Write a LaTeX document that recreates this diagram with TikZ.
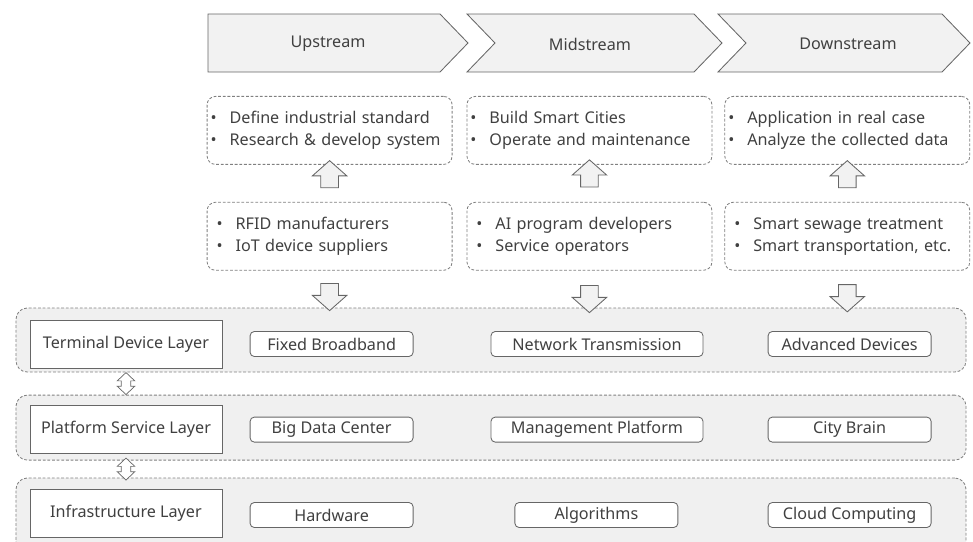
\documentclass[tikz,border=0pt]{standalone}
\usepackage{fontspec}
\setmainfont{Noto Sans}
\usetikzlibrary{positioning}
\usetikzlibrary{calc}
\usetikzlibrary{shapes.arrows}

\definecolor{txtgray}{HTML}{404040}
\definecolor{linegray}{HTML}{666666}
\definecolor{dashgray}{HTML}{808080}
\definecolor{fillgray}{HTML}{F2F2F2}
\definecolor{bandgray}{HTML}{F0F0F0}

\newcommand{\blt}{\makebox[0.475cm][l]{\textbullet}}

\begin{document}
\begin{tikzpicture}[
  font=\fontsize{11.5}{15.6}\selectfont, text=txtgray,
  chev/.style={draw=linegray, fill=fillgray, line width=.6pt},
  note/.style={draw=dashgray, dash pattern=on 2pt off 1.3pt, rounded corners=6pt, line width=.6pt,
    minimum width=6.125cm, minimum height=1.7cm, inner xsep=.08cm, text width=5.95cm, align=left},
  band/.style={draw=dashgray, fill=bandgray, dash pattern=on 2pt off 1.3pt, rounded corners=8pt,
    line width=.6pt, minimum width=23.75cm},
  layer/.style={draw=linegray, fill=white, line width=.6pt, minimum width=4.8cm, minimum height=1.2cm},
  item/.style={draw=linegray, fill=white, line width=.6pt, rounded corners=3pt,
    minimum width=4.075cm, minimum height=.625cm, inner sep=0pt},
  blockarr/.style={single arrow, draw=linegray, fill=fillgray, line width=.6pt,
    inner xsep=.2cm, inner ysep=.21cm, minimum height=.68cm, single arrow head extend=.21cm,
    single arrow tip angle=97},
  dblarr/.style={double arrow, draw=linegray, fill=white, line width=.5pt, rotate=90,
    inner xsep=.075cm, inner ysep=.11cm, minimum height=.55cm, minimum width=.425cm,
    double arrow head extend=.1cm, double arrow tip angle=93}
]
\useasboundingbox (0,0) rectangle (24.325,-13.525);

% value chain
\draw[chev] (5.2,-0.35) -- (11.0,-0.35) -- (11.7,-1.075) -- (11.0,-1.8) -- (5.2,-1.8) -- cycle;
\draw[chev] (11.675,-0.35) -- (17.35,-0.35) -- (18.05,-1.075) -- (17.35,-1.8) -- (11.675,-1.8)
  -- (12.375,-1.075) -- cycle;
\draw[chev] (17.95,-0.35) -- (23.55,-0.35) -- (24.25,-1.075) -- (23.55,-1.8) -- (17.95,-1.8)
  -- (18.65,-1.075) -- cycle;
\node(up) at (8.2,-1.1) {Upstream};
\node(mid) at (14.75,-1.1) {Midstream};
\node(down) at (21.2,-1.1) {Downstream};

\node(t1)[note] at (8.24,-3.26) {\blt Define industrial standard\\ \blt Research \& develop system};
\node(t2)[note, right=0.35cm of t1] {\blt Build Smart Cities\\ \blt Operate and maintenance};
\node(t3)[note, right=0.3cm of t2] {\blt Application in real case\\ \blt Analyze the collected data};

\node(b1)[note, below=0.925cm of t1, text width=5.65cm] {\blt RFID manufacturers\\ \blt IoT device suppliers};
\node(b2)[note, below=0.925cm of t2, text width=5.65cm] {\blt AI program developers\\ \blt Service operators};
\node(b3)[note, below=0.925cm of t3, text width=5.65cm] {\blt Smart sewage treatment\\ \blt Smart transportation, etc.};

% layers
\node(band1)[band, minimum height=1.6cm] at (12.275,-8.5) {};
\node(band2)[band, minimum height=1.625cm] at (12.275,-10.69) {};
\node(band3)[band, minimum height=2cm] at (12.275,-12.95) {};

\node(lay1)[layer] at (3.15,-8.6) {Terminal Device Layer};
\node(lay2)[layer] at (3.15,-10.725) {Platform Service Layer};
\node(lay3)[layer] at (3.15,-12.825) {Infrastructure Layer};

\node(i11)[item] at (8.29,-8.6) {Fixed Broadband};
\node(i12)[item, minimum width=5.3cm] at (14.925,-8.6) {Network Transmission};
\node(i13)[item] at (21.24,-8.6) {Advanced Devices};

\node(i21)[item] at (8.29,-10.74) {Big Data Center};
\node(i22)[item, minimum width=5.3cm] at (14.925,-10.74) {Management Platform};
\node(i23)[item] at (21.24,-10.74) {City Brain};

\node(i31)[item] at (8.29,-12.875) {Hardware};
\node(i32)[item] at (14.91,-12.875) {Algorithms};
\node(i33)[item] at (21.24,-12.875) {Cloud Computing};

% block arrows
\node(u1)[blockarr, rotate=90, xshift=.13cm] at ($(b1.north)!.5!(t1.south)$) {};
\node(u2)[blockarr, rotate=90, xshift=.15cm] at ($(b2.north)!.5!(t2.south)$) {};
\node(u3)[blockarr, rotate=90, xshift=.13cm] at ($(b3.north)!.5!(t3.south)$) {};

\node(d1)[blockarr, rotate=-90, xshift=.1cm] at ($(b1.south)!.5!(b1.south |- band1.north)$) {};
\node(d2)[blockarr, rotate=-90, xshift=.15cm] at ($(b2.south)!.5!(b2.south |- band1.north)$) {};
\node(d3)[blockarr, rotate=-90, xshift=.13cm] at ($(b3.south)!.5!(b3.south |- band1.north)$) {};

\node(l12)[dblarr] at ($(lay1.south |- band1.south)!.5!(lay1.south |- band2.north)$) {};
\node(l23)[dblarr] at ($(lay2.south |- band2.south)!.5!(lay2.south |- band3.north)$) {};
\end{tikzpicture}
\end{document}
